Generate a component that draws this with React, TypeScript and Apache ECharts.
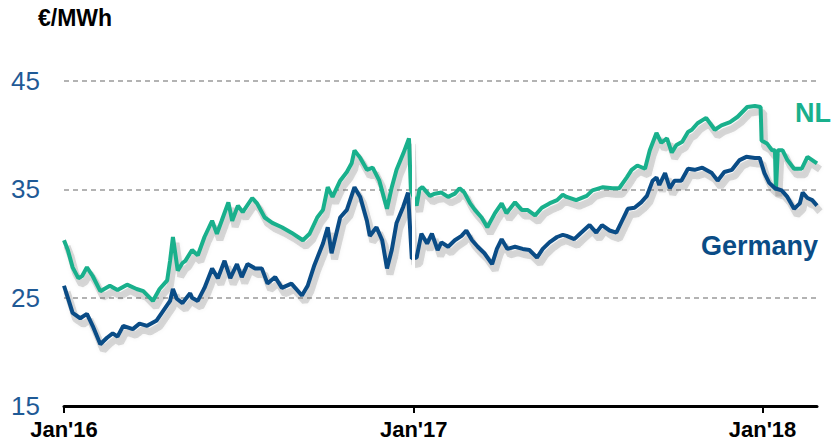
import React, { useEffect, useRef } from "react";
import * as echarts from "echarts";

const nlDates = [
  "2016-01-01","2016-01-05","2016-01-10","2016-01-16","2016-01-20","2016-01-25","2016-01-31","2016-02-08","2016-02-18","2016-02-26",
  "2016-03-07","2016-03-17","2016-03-24","2016-04-03","2016-04-10","2016-04-18","2016-04-21","2016-04-24","2016-04-29","2016-05-04",
  "2016-05-07","2016-05-14","2016-05-20","2016-05-27","2016-06-04","2016-06-09","2016-06-14","2016-06-21","2016-06-25","2016-07-01",
  "2016-07-06","2016-07-16","2016-07-21","2016-07-29","2016-08-06","2016-08-16","2016-08-26","2016-09-07","2016-09-14","2016-09-22",
  "2016-09-28","2016-10-03","2016-10-08","2016-10-16","2016-10-23","2016-10-28","2016-10-31","2016-11-06","2016-11-13","2016-11-19",
  "2016-11-26","2016-12-04","2016-12-09","2016-12-14","2016-12-21","2016-12-27","2016-12-29","2017-01-04","2017-01-07","2017-01-10",
  "2017-01-18","2017-01-23","2017-01-30","2017-02-06","2017-02-13","2017-02-18","2017-02-23","2017-03-01","2017-03-06","2017-03-13",
  "2017-03-19","2017-03-27","2017-04-03","2017-04-08","2017-04-17","2017-04-24","2017-04-30","2017-05-08","2017-05-15","2017-05-23",
  "2017-05-31","2017-06-06","2017-06-10","2017-06-20","2017-07-01","2017-07-07","2017-07-18","2017-07-28","2017-08-04","2017-08-12",
  "2017-08-17","2017-08-23","2017-08-31","2017-09-05","2017-09-12","2017-09-17","2017-09-23","2017-09-28","2017-10-03","2017-10-09",
  "2017-10-15","2017-10-19","2017-10-25","2017-11-03","2017-11-12","2017-11-19","2017-11-28","2017-12-06","2017-12-16","2017-12-24",
  "2017-12-30","2017-12-31","2018-01-06","2018-01-11","2018-01-14","2018-01-15","2018-01-17","2018-01-22","2018-01-27","2018-02-03",
  "2018-02-11","2018-02-17","2018-02-22","2018-02-27",
];
const nlValues = [
  30.3,29.4,27.8,26.8,27.0,27.8,27.0,25.6,26.1,25.7,
  26.2,25.8,25.6,24.7,25.8,26.6,28.4,30.6,27.5,28.2,
  28.4,29.4,28.9,30.6,32.1,30.9,32.1,33.8,32.1,33.5,
  32.9,34.2,33.7,32.4,31.9,31.5,31.0,30.3,30.9,32.4,
  33.1,35.2,34.3,35.8,36.6,37.4,38.6,37.9,36.8,37.0,
  35.8,33.2,35.2,36.8,38.3,39.7,35.0,33.5,35.0,35.2,
  34.4,34.6,34.7,34.3,34.6,35.1,34.7,33.7,33.1,32.4,
  31.5,32.8,33.7,32.8,33.8,33.1,33.1,32.6,33.3,33.7,
  34.0,34.5,34.3,34.0,34.4,34.9,35.2,35.1,35.1,36.1,
  36.8,37.2,36.9,38.6,40.2,39.3,39.7,38.4,39.1,39.4,
  40.3,40.5,41.1,41.6,40.5,40.9,41.2,41.7,42.6,42.7,
  42.6,39.5,39.2,38.6,38.6,34.9,38.6,38.6,37.7,36.9,
  36.9,38.0,37.7,37.4,
];

const deDates = [
  "2016-01-01","2016-01-05","2016-01-10","2016-01-18","2016-01-25","2016-01-31","2016-02-08","2016-02-15","2016-02-21","2016-02-26",
  "2016-03-03","2016-03-13","2016-03-20","2016-03-28","2016-04-07","2016-04-14","2016-04-21","2016-04-24","2016-04-28","2016-05-04",
  "2016-05-12","2016-05-14","2016-05-20","2016-05-27","2016-06-04","2016-06-10","2016-06-17","2016-06-23","2016-06-30","2016-07-05",
  "2016-07-11","2016-07-19","2016-07-26","2016-08-01","2016-08-09","2016-08-16","2016-08-26","2016-09-06","2016-09-12","2016-09-19",
  "2016-09-28","2016-10-03","2016-10-07","2016-10-16","2016-10-23","2016-10-31","2016-11-06","2016-11-13","2016-11-16","2016-11-23",
  "2016-11-29","2016-12-04","2016-12-09","2016-12-14","2016-12-21","2016-12-26","2016-12-30","2017-01-04","2017-01-09","2017-01-15",
  "2017-01-20","2017-01-26","2017-01-30","2017-02-06","2017-02-13","2017-02-20","2017-02-25","2017-03-03","2017-03-09","2017-03-16",
  "2017-03-24","2017-03-29","2017-04-03","2017-04-09","2017-04-17","2017-04-25","2017-05-02","2017-05-10","2017-05-16","2017-05-23",
  "2017-05-31","2017-06-06","2017-06-10","2017-06-18","2017-06-24","2017-07-04","2017-07-11","2017-07-17","2017-07-25","2017-08-01",
  "2017-08-07","2017-08-13","2017-08-20","2017-08-27","2017-09-02","2017-09-08","2017-09-12","2017-09-15","2017-09-21","2017-09-26",
  "2017-10-01","2017-10-08","2017-10-15","2017-10-22","2017-10-30","2017-11-09","2017-11-15","2017-11-22","2017-11-30","2017-12-08",
  "2017-12-15","2017-12-24","2017-12-29","2018-01-03","2018-01-08","2018-01-14","2018-01-21","2018-01-27","2018-02-03","2018-02-09",
  "2018-02-12","2018-02-17","2018-02-22","2018-02-27",
];
const deValues = [
  26.1,25.0,23.6,23.1,23.5,22.4,20.7,21.3,21.7,21.4,
  22.4,22.1,22.6,22.4,22.9,23.8,24.7,25.8,24.9,24.5,
  25.4,25.0,24.7,25.9,27.7,26.8,28.4,26.8,28.1,26.9,
  28.1,27.7,27.7,26.3,26.9,25.9,26.3,25.2,26.1,28.0,
  30.0,31.5,29.1,32.4,33.1,35.2,34.3,32.1,30.7,31.5,
  30.3,27.7,29.4,31.9,33.4,34.7,28.6,28.7,30.9,30.0,
  30.9,29.4,30.1,29.7,30.3,30.7,31.2,30.3,29.7,29.1,
  28.1,29.5,30.4,29.5,29.7,29.5,29.4,28.7,29.5,30.1,
  30.6,30.8,30.7,30.4,30.9,31.7,31.0,31.7,31.2,31.0,
  32.1,33.2,33.3,33.8,34.4,35.8,36.1,35.4,36.5,35.1,
  35.8,35.8,36.9,36.8,37.0,36.5,35.8,36.6,36.8,37.7,
  38.0,37.9,37.9,36.5,35.6,35.1,34.9,34.3,33.2,33.7,
  34.7,34.2,34.0,33.5,
];

const yTicks = [15, 25, 35, 45];
const xStart = "2016-01-01";
const xEnd = "2018-02-27";
const gapDate = "2017-01-01";
const unitLabel = "€/MWh";
const seriesNames = ["NL", "Germany"];

const NL_COLOR = "#19B08C";
const DE_COLOR = "#0A4C86";
const Y_LABEL_COLOR = "#1F5A96";
const SHADOW_COLOR = "rgba(80,80,80,0.22)";
const FONT = "'Liberation Sans', Arial, sans-serif";

export default function App() {
  const ref = useRef<HTMLDivElement>(null);
  useEffect(() => {
    if (!ref.current) return;
    const chart = echarts.init(ref.current, undefined, { renderer: "svg" });
    const day = 24 * 3600 * 1000;
    const nlData = nlDates.map((d, i) => [d, nlValues[i]]);
    const deData = deDates.map((d, i) => [d, deValues[i]]);
    const yMin = yTicks[0];
    const yMax = yTicks[yTicks.length - 1];
    const shadowLine = {
      color: SHADOW_COLOR,
      width: 7,
      shadowColor: SHADOW_COLOR,
      shadowBlur: 4,
    };
    chart.setOption({
      animation: false,
      title: {
        text: unitLabel,
        left: 38,
        top: 6,
        padding: 0,
        textStyle: { fontSize: 23, fontWeight: "bold", color: "#000", fontFamily: FONT },
      },
      grid: [
        { left: 64, right: 17, top: 81, bottom: 42, containLabel: false },
        { left: 67, right: 14, top: 87, bottom: 36, containLabel: false },
      ],
      xAxis: [
        {
          type: "time",
          gridIndex: 0,
          min: xStart,
          max: xEnd,
          minInterval: 365 * day,
          maxInterval: 366 * day,
          z: 10,
          axisLine: { show: true, lineStyle: { color: "#000", width: 3 } },
          axisTick: { show: true, length: 7, lineStyle: { color: "#000", width: 2 } },
          splitLine: { show: false },
          axisLabel: {
            margin: 12,
            fontSize: 22,
            fontWeight: "bold",
            color: "#000",
            fontFamily: FONT,
            formatter: (v: number) => {
              const d = new Date(v);
              return "Jan'" + String(d.getFullYear()).slice(2);
            },
          },
        },
        {
          type: "time",
          gridIndex: 1,
          min: xStart,
          max: xEnd,
          show: false,
        },
      ],
      yAxis: [
        {
          type: "value",
          gridIndex: 0,
          min: yMin,
          max: yMax,
          interval: 10,
          axisLine: { show: false },
          axisTick: { show: false },
          axisLabel: { margin: 24, fontSize: 26, color: Y_LABEL_COLOR, fontFamily: FONT },
          splitLine: { show: true, lineStyle: { color: "#9a9a9a", width: 1.5, type: [5, 4] } },
        },
        {
          type: "value",
          gridIndex: 1,
          min: yMin,
          max: yMax,
          interval: 10,
          show: false,
          splitLine: { show: false },
        },
      ],
      series: [
        {
          name: seriesNames[0] + " shadow",
          type: "line",
          xAxisIndex: 1,
          yAxisIndex: 1,
          data: nlData,
          showSymbol: false,
          symbol: "none",
          silent: true,
          lineStyle: shadowLine,
          z: 1,
        },
        {
          name: seriesNames[1] + " shadow",
          type: "line",
          xAxisIndex: 1,
          yAxisIndex: 1,
          data: deData,
          showSymbol: false,
          symbol: "none",
          silent: true,
          lineStyle: shadowLine,
          z: 1,
        },
        {
          name: seriesNames[0],
          type: "line",
          data: nlData,
          showSymbol: false,
          symbol: "none",
          lineStyle: { color: NL_COLOR, width: 4 },
          z: 2,
        },
        {
          name: seriesNames[1],
          type: "line",
          data: deData,
          showSymbol: false,
          symbol: "none",
          lineStyle: { color: DE_COLOR, width: 4 },
          z: 3,
          markLine: {
            silent: true,
            symbol: ["none", "none"],
            label: { show: false },
            lineStyle: { color: "#fff", width: 3, type: "solid" },
            data: [{ xAxis: gapDate }],
            z: 6,
          },
        },
      ],
      graphic: [
        {
          type: "text",
          right: 3,
          top: 99,
          style: { text: seriesNames[0], fontSize: 27, fontWeight: "bold", fill: NL_COLOR, fontFamily: FONT },
        },
        {
          type: "text",
          right: 16,
          top: 232,
          style: { text: seriesNames[1], fontSize: 27, fontWeight: "bold", fill: DE_COLOR, fontFamily: FONT },
        },
      ],
    });
    return () => chart.dispose();
  }, []);
  return (
    <div
      ref={ref}
      style={{ position: "fixed", left: 0, top: 0, width: 834, height: 448, background: "#fff" }}
    />
  );
}
